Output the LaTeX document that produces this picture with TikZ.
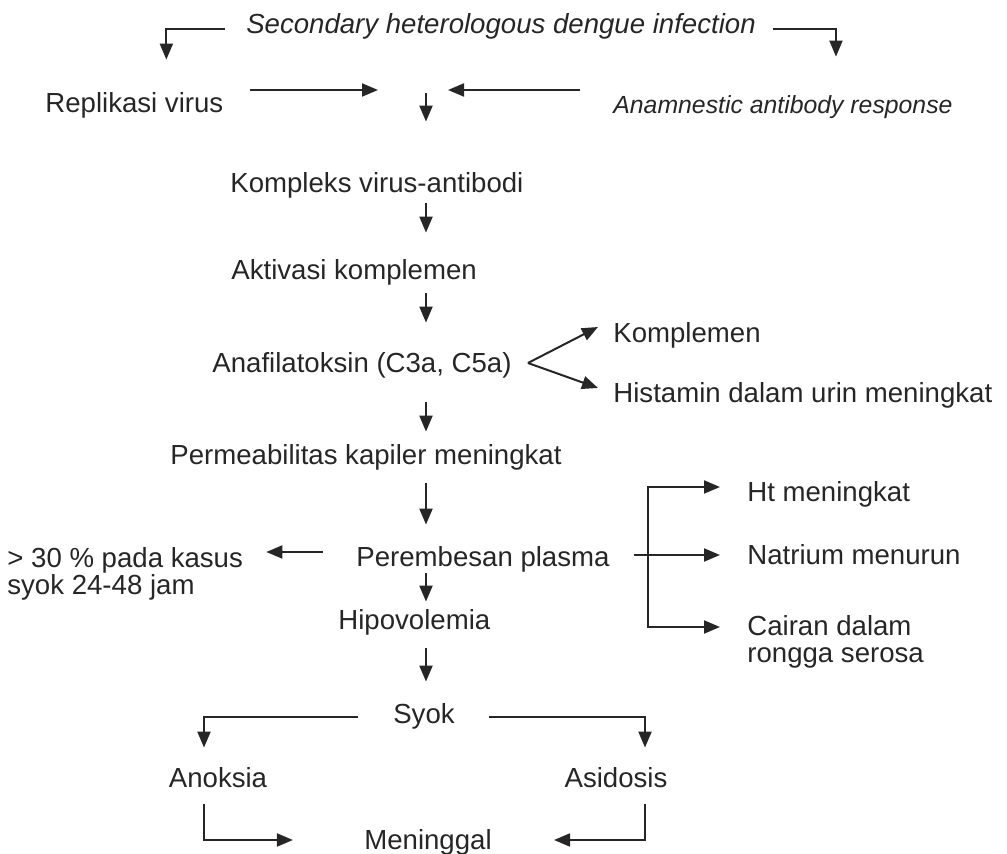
\documentclass[tikz,border=0pt]{standalone}
\usepackage{fontspec}
\setmainfont{Liberation Sans}
\usetikzlibrary{arrows.meta,positioning,calc}

\begin{document}
\begin{tikzpicture}[x=0.5pt,y=-0.5pt,
  every node/.style={font=\fontsize{13.8}{13.5}\selectfont,text=black!85,inner sep=0pt},
  lbl/.style={text height=10pt,text depth=3pt},
  itl/.style={lbl,font=\fontsize{13.8}{13.5}\selectfont\itshape},
  multi/.style={align=left},
  ar/.style={-{Triangle[length=8pt,width=6.5pt]},draw=black!85,line width=1pt}]
\useasboundingbox (0,0) rectangle (1007,854);
\coordinate (sp) at (426,0);
\coordinate (mid) at (426,90);
\node[itl] (ttl) at (501,27) {Secondary heterologous dengue infection};
\node[lbl,anchor=west] (rep) at (45,106) {Replikasi virus};
\node[itl,anchor=west,font=\fontsize{12.4}{13}\selectfont\itshape] (anam) at (613,107) {Anamnestic antibody response};
\node[lbl,anchor=west] (kvx) at (230,186) {Kompleks virus-antibodi};
\node[lbl,anchor=west] (akt) at (231,273) {Aktivasi komplemen};
\node[lbl,anchor=west] (ana) at (212,366) {Anafilatoksin (C3a, C5a)};
\node[lbl,anchor=west] (kom) at (613,336) {Komplemen};
\node[lbl,anchor=west] (his) at (613,396) {Histamin dalam urin meningkat};
\node[lbl,anchor=west] (perm) at (170,458) {Permeabilitas kapiler meningkat};
\node[lbl,anchor=west] (per) at (356,560) {Perembesan plasma};
\node[multi,anchor=north west] (gt30) at (7,547) {> 30 \% pada kasus\\syok 24-48 jam};
\node[lbl,anchor=west] (ht) at (747,495) {Ht meningkat};
\node[lbl,anchor=west] (nat) at (747,558) {Natrium menurun};
\node[multi,anchor=north west] (cai) at (747,615) {Cairan dalam\\rongga serosa};
\node[lbl,anchor=west] (hipo) at (338,623) {Hipovolemia};
\node[lbl] (syok) at (424,717) {Syok};
\node[lbl] (ano) at (218,781) {Anoksia};
\node[lbl] (asi) at (616,781) {Asidosis};
\node[lbl] (men) at (428,842) {Meninggal};
% top branches
\draw[ar,shorten <=10.5pt,shorten >=16.5pt] ([yshift=-1pt]ttl.west) -| ([xshift=16pt]rep.north);
\draw[ar,shorten <=8.5pt,shorten >=18.5pt] ([yshift=-1pt]ttl.east) -| ([xshift=26.5pt]anam.north);
\draw[ar,shorten <=13pt,shorten >=24pt] (rep.east |- mid) -- (mid);
\draw[ar,shorten <=16.5pt,shorten >=11pt] (anam.west |- mid) -- (mid);
% main chain
\draw[ar,shorten <=1.5pt,shorten >=25.5pt] (mid) -- (kvx.north -| sp);
\foreach \a/\b/\s/\e in {kvx/akt/2/13.5,akt/ana/3.5/15,ana/perm/11.5/6.5,perm/per/6/11,per/hipo/0/4,hipo/syok/6/11}
  \draw[ar,shorten <=\s pt,shorten >=\e pt] (\a.south -| sp) -- (\b.north -| sp);
% fork
\coordinate (fk) at ([shift={(8pt,1.5pt)}]ana.east);
\draw[ar] (fk) -- ([shift={(-7.5pt,4.5pt)}]kom.west);
\draw[ar] (fk) -- ([shift={(-7.5pt,4pt)}]his.west);
% plasma
\draw[ar,shorten <=16.5pt,shorten >=11.5pt] ([yshift=4pt]per.west) -- ([yshift=4pt]per.west -| gt30.east);
\draw[ar,shorten <=12pt,shorten >=13.5pt] ([yshift=2.5pt]per.east) -- ([yshift=2.5pt]per.east -| nat.west);
\coordinate (bt) at (648,487);
\coordinate (bb) at (648,627);
\draw[ar,shorten >=13.5pt] (bb) -- (bt) -- (bt -| ht.west);
\draw[ar,shorten >=13.5pt] (bt) -- (bb) -- (bb -| cai.west);
% shock
\draw[ar,shorten <=17.5pt,shorten >=10pt] (syok.west) -| ([xshift=-7pt]ano.north);
\draw[ar,shorten <=17pt,shorten >=10pt] (syok.east) -| ([xshift=14.5pt]asi.north);
\draw[ar,shorten <=5pt,shorten >=35.5pt] ([xshift=-7pt]ano.south) |- ([yshift=1pt]men.west);
\draw[ar,shorten <=5pt,shorten >=31pt] ([xshift=14.5pt]asi.south) |- ([yshift=1pt]men.east);
\end{tikzpicture}
\end{document}
